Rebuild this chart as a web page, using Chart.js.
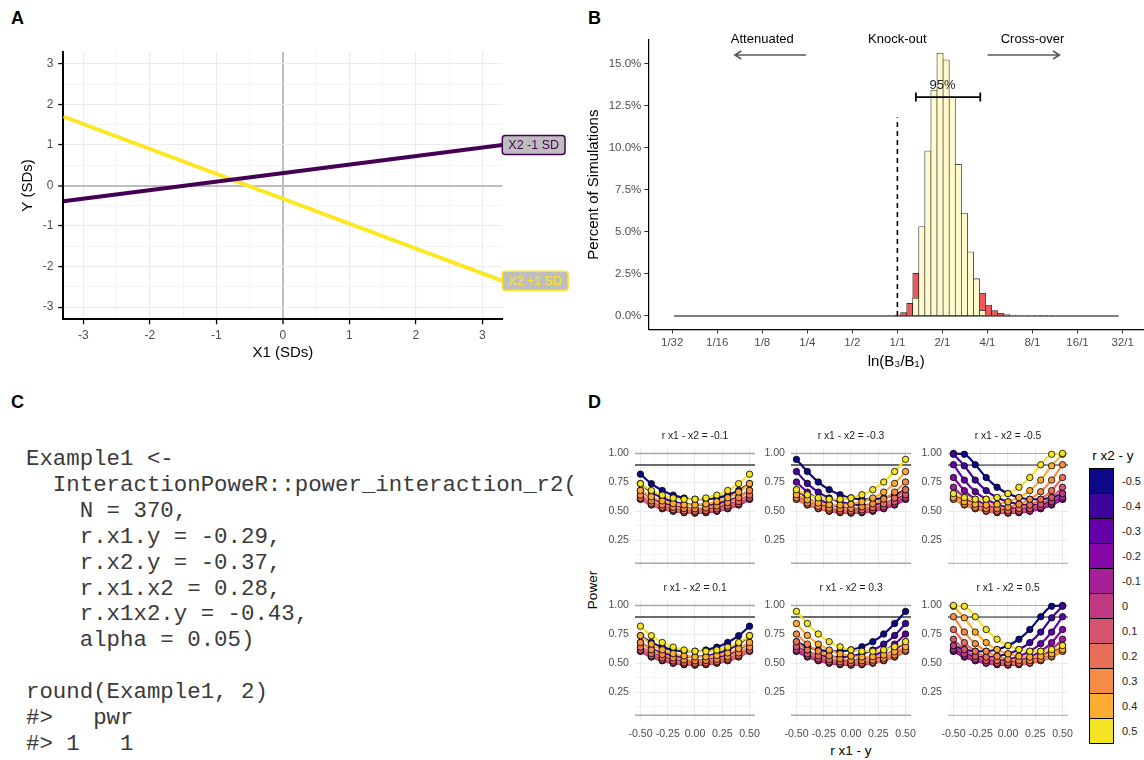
<!DOCTYPE html>
<html>
<head>
<meta charset="utf-8">
<title>Interaction power figure</title>
<script src="https://cdn.jsdelivr.net/npm/chart.js@4.4.1/dist/chart.umd.min.js"></script>
<style>
  html, body { margin:0; padding:0; background:#ffffff; }
  body { position:relative; width:1144px; height:760px; overflow:hidden; font-family:"Liberation Sans", Arial, sans-serif; }
  canvas { position:absolute; }
  .tag { position:absolute; font-weight:bold; font-size:18px; line-height:18px; color:#000; }
  #codeBlock { position:absolute; left:26px; top:447px; margin:0; width:554px; overflow:hidden; white-space:pre;
    font-family:"Liberation Mono","Courier New",monospace; font-size:22.4px; line-height:25.9px; color:#3a3a3a; }
  .ctext { position:absolute; white-space:nowrap; transform:translate(-50%,-50%); color:#000; }
  #legendD { position:absolute; left:0; top:0; }
  .lgBox { position:absolute; box-sizing:border-box; border:1px solid #000; }
  .lgLab { position:absolute; font-size:11px; color:#1a1a1a; transform:translateY(-50%); white-space:nowrap; }
</style>
</head>
<body>
<div class="tag" style="left:11px;top:9px">A</div>
<div class="tag" style="left:588px;top:9px">B</div>
<div class="tag" style="left:11px;top:393px">C</div>
<div class="tag" style="left:588px;top:393px">D</div>
<pre id="codeBlock"></pre>
<div class="ctext" style="left:592px;top:590px;font-size:13.5px;transform:translate(-50%,-50%) rotate(-90deg);">Power</div>
<div class="ctext" style="left:851px;top:750px;font-size:13.5px;">r x1 - y</div>
<div id="legendD"></div>
<script>
// ================= DATA =================
// ---- Panel A: simple slopes ----
const aX = [-3.3, 3.3];
const aLowY = [-0.39, 1.00];   // X2 -1 SD
const aHighY = [1.70, -2.35];  // X2 +1 SD
const aLabels = ['X2 -1 SD', 'X2 +1 SD'];

// ---- Panel B: histogram of log2(B3/B1) ----
const bBinCenters = [-0.131, 0.003, 0.138, 0.273, 0.408, 0.543, 0.677, 0.812, 0.947, 1.082, 1.217, 1.352, 1.487, 1.622, 1.756, 1.891, 2.026, 2.161, 2.296, 2.431, 2.566, 2.700, 2.835, 2.970, 3.105, 3.240, 3.374];
const bInside  = [0, 0, 0, 0, 1.05, 5.3, 9.8, 13.4, 15.6, 15.2, 13.0, 9.0, 6.1, 3.8, 2.2, 0.32, 0, 0, 0, 0, 0, 0, 0, 0, 0, 0, 0];
const bOutside = [0.02, 0.06, 0.2, 0.75, 1.48, 0, 0, 0, 0, 0, 0, 0, 0, 0, 0, 1.03, 0.65, 0.32, 0.16, 0.08, 0.05, 0.03, 0.02, 0.04, 0.02, 0.02, 0.01];
const bTickValues = [-5, -4, -3, -2, -1, 0, 1, 2, 3, 4, 5];
const bTickLabels = ['1/32', '1/16', '1/8', '1/4', '1/2', '1/1', '2/1', '4/1', '8/1', '16/1', '32/1'];
const bBaselineX = [-4.96, 4.91];
const bKnockoutX = 0;
const bKnockoutTop = 11.8;
const bCI = [0.41, 1.84];
const bCIy = 13.0;
const bCILabel = '95%';
const bCILabelPos = [1.0, 13.7];
const bAnnotLabels = ['Attenuated', 'Knock-out', 'Cross-over'];
const bAnnotX = [-3.0, 0, 3.0];
const bAnnotY = 16.45;
const bArrowFrom = [-2.03, 2.0];
const bArrowTo = [-3.61, 3.6];
const bArrowY = 15.5;

// ---- Panel C: code ----
const codeLines = [
  'Example1 <-',
  '  InteractionPoweR::power_interaction_r2(',
  '    N = 370,',
  '    r.x1.y = -0.29,',
  '    r.x2.y = -0.37,',
  '    r.x1.x2 = 0.28,',
  '    r.x1x2.y = -0.43,',
  '    alpha = 0.05)',
  '',
  'round(Example1, 2)',
  '#>   pwr',
  '#> 1   1'
];

// ---- Panel D: power curves ----
const dRx1y = [-0.5, -0.4, -0.3, -0.2, -0.1, 0, 0.1, 0.2, 0.3, 0.4, 0.5];
const dRx2yLabels = ['-0.5', '-0.4', '-0.3', '-0.2', '-0.1', '0', '0.1', '0.2', '0.3', '0.4', '0.5'];
const dColors = ['#0D0887', '#3E049C', '#6300A7', '#8707A6', '#A62098', '#C03A83', '#D5546E', '#E76F5A', '#F58C46', '#FDAD32', '#F4E423'];
const dPanelTitles = ['r x1 - x2 = -0.1', 'r x1 - x2 = -0.3', 'r x1 - x2 = -0.5', 'r x1 - x2 = 0.1', 'r x1 - x2 = 0.3', 'r x1 - x2 = 0.5'];
const dRefLines = [0.05, 0.9, 1.0];
// rows: r x2 - y = -0.5 ... 0.5 ; columns: r x1 - y = -0.5 ... 0.5
const dPowerNeg01 = [
  [0.821,0.739,0.680,0.640,0.615,0.604,0.604,0.615,0.640,0.680,0.739],
  [0.739,0.667,0.617,0.584,0.564,0.555,0.556,0.567,0.590,0.626,0.680],
  [0.680,0.617,0.575,0.546,0.529,0.522,0.524,0.535,0.556,0.590,0.640],
  [0.640,0.584,0.546,0.521,0.506,0.500,0.503,0.514,0.535,0.567,0.615],
  [0.615,0.564,0.529,0.506,0.493,0.488,0.491,0.503,0.524,0.556,0.604],
  [0.604,0.555,0.522,0.500,0.488,0.484,0.488,0.500,0.522,0.555,0.604],
  [0.604,0.556,0.524,0.503,0.491,0.488,0.493,0.506,0.529,0.564,0.615],
  [0.615,0.567,0.535,0.514,0.503,0.500,0.506,0.521,0.546,0.584,0.640],
  [0.640,0.590,0.556,0.535,0.524,0.522,0.529,0.546,0.575,0.617,0.680],
  [0.680,0.626,0.590,0.567,0.556,0.555,0.564,0.584,0.617,0.667,0.739],
  [0.739,0.680,0.640,0.615,0.604,0.604,0.615,0.640,0.680,0.739,0.821]
];
const dPowerNeg03 = [
  [0.949,0.844,0.753,0.687,0.643,0.616,0.604,0.604,0.616,0.643,0.687],
  [0.844,0.741,0.666,0.615,0.582,0.562,0.554,0.558,0.572,0.600,0.643],
  [0.753,0.666,0.606,0.565,0.539,0.525,0.522,0.527,0.543,0.572,0.616],
  [0.687,0.615,0.565,0.532,0.512,0.502,0.501,0.509,0.527,0.558,0.604],
  [0.643,0.582,0.539,0.512,0.495,0.488,0.490,0.501,0.522,0.554,0.604],
  [0.616,0.562,0.525,0.502,0.488,0.484,0.488,0.502,0.525,0.562,0.616],
  [0.604,0.554,0.522,0.501,0.490,0.488,0.495,0.512,0.539,0.582,0.643],
  [0.604,0.558,0.527,0.509,0.501,0.502,0.512,0.532,0.565,0.615,0.687],
  [0.616,0.572,0.543,0.527,0.522,0.525,0.539,0.565,0.606,0.666,0.753],
  [0.643,0.600,0.572,0.558,0.554,0.562,0.582,0.615,0.666,0.741,0.844],
  [0.687,0.643,0.616,0.604,0.604,0.616,0.643,0.687,0.753,0.844,0.949]
];
const dPowerNeg05 = [
  [1.000,0.993,0.903,0.792,0.708,0.653,0.619,0.604,0.604,0.619,0.653],
  [0.993,0.893,0.770,0.679,0.619,0.582,0.561,0.554,0.561,0.582,0.619],
  [0.903,0.770,0.670,0.604,0.561,0.535,0.523,0.523,0.535,0.561,0.604],
  [0.792,0.679,0.604,0.554,0.523,0.505,0.500,0.505,0.523,0.554,0.604],
  [0.708,0.619,0.561,0.523,0.500,0.489,0.489,0.500,0.523,0.561,0.619],
  [0.653,0.582,0.535,0.505,0.489,0.484,0.489,0.505,0.535,0.582,0.653],
  [0.619,0.561,0.523,0.500,0.489,0.489,0.500,0.523,0.561,0.619,0.708],
  [0.604,0.554,0.523,0.505,0.500,0.505,0.523,0.554,0.604,0.679,0.792],
  [0.604,0.561,0.535,0.523,0.523,0.535,0.561,0.604,0.670,0.770,0.903],
  [0.619,0.582,0.561,0.554,0.561,0.582,0.619,0.679,0.770,0.893,0.993],
  [0.653,0.619,0.604,0.604,0.619,0.653,0.708,0.792,0.903,0.993,1.000]
];
const dPowerPos01 = [
  [0.739,0.680,0.640,0.615,0.604,0.604,0.615,0.640,0.680,0.739,0.821],
  [0.680,0.626,0.590,0.567,0.556,0.555,0.564,0.584,0.617,0.667,0.739],
  [0.640,0.590,0.556,0.535,0.524,0.522,0.529,0.546,0.575,0.617,0.680],
  [0.615,0.567,0.535,0.514,0.503,0.500,0.506,0.521,0.546,0.584,0.640],
  [0.604,0.556,0.524,0.503,0.491,0.488,0.493,0.506,0.529,0.564,0.615],
  [0.604,0.555,0.522,0.500,0.488,0.484,0.488,0.500,0.522,0.555,0.604],
  [0.615,0.564,0.529,0.506,0.493,0.488,0.491,0.503,0.524,0.556,0.604],
  [0.640,0.584,0.546,0.521,0.506,0.500,0.503,0.514,0.535,0.567,0.615],
  [0.680,0.617,0.575,0.546,0.529,0.522,0.524,0.535,0.556,0.590,0.640],
  [0.739,0.667,0.617,0.584,0.564,0.555,0.556,0.567,0.590,0.626,0.680],
  [0.821,0.739,0.680,0.640,0.615,0.604,0.604,0.615,0.640,0.680,0.739]
];
const dPowerPos03 = [
  [0.687,0.643,0.616,0.604,0.604,0.616,0.643,0.687,0.753,0.844,0.949],
  [0.643,0.600,0.572,0.558,0.554,0.562,0.582,0.615,0.666,0.741,0.844],
  [0.616,0.572,0.543,0.527,0.522,0.525,0.539,0.565,0.606,0.666,0.753],
  [0.604,0.558,0.527,0.509,0.501,0.502,0.512,0.532,0.565,0.615,0.687],
  [0.604,0.554,0.522,0.501,0.490,0.488,0.495,0.512,0.539,0.582,0.643],
  [0.616,0.562,0.525,0.502,0.488,0.484,0.488,0.502,0.525,0.562,0.616],
  [0.643,0.582,0.539,0.512,0.495,0.488,0.490,0.501,0.522,0.554,0.604],
  [0.687,0.615,0.565,0.532,0.512,0.502,0.501,0.509,0.527,0.558,0.604],
  [0.753,0.666,0.606,0.565,0.539,0.525,0.522,0.527,0.543,0.572,0.616],
  [0.844,0.741,0.666,0.615,0.582,0.562,0.554,0.558,0.572,0.600,0.643],
  [0.949,0.844,0.753,0.687,0.643,0.616,0.604,0.604,0.616,0.643,0.687]
];
const dPowerPos05 = [
  [0.653,0.619,0.604,0.604,0.619,0.653,0.708,0.792,0.903,0.993,1.000],
  [0.619,0.582,0.561,0.554,0.561,0.582,0.619,0.679,0.770,0.893,0.993],
  [0.604,0.561,0.535,0.523,0.523,0.535,0.561,0.604,0.670,0.770,0.903],
  [0.604,0.554,0.523,0.505,0.500,0.505,0.523,0.554,0.604,0.679,0.792],
  [0.619,0.561,0.523,0.500,0.489,0.489,0.500,0.523,0.561,0.619,0.708],
  [0.653,0.582,0.535,0.505,0.489,0.484,0.489,0.505,0.535,0.582,0.653],
  [0.708,0.619,0.561,0.523,0.500,0.489,0.489,0.500,0.523,0.561,0.619],
  [0.792,0.679,0.604,0.554,0.523,0.505,0.500,0.505,0.523,0.554,0.604],
  [0.903,0.770,0.670,0.604,0.561,0.535,0.523,0.523,0.535,0.561,0.604],
  [0.993,0.893,0.770,0.679,0.619,0.582,0.561,0.554,0.561,0.582,0.619],
  [1.000,0.993,0.903,0.792,0.708,0.653,0.619,0.604,0.604,0.619,0.653]
];
const dPanels = [dPowerNeg01, dPowerNeg03, dPowerNeg05, dPowerPos01, dPowerPos03, dPowerPos05];

// ================= RENDERING =================
const FONT = '"Liberation Sans", Arial, sans-serif';
Chart.defaults.font.family = FONT;
Chart.defaults.color = '#4D4D4D';

function place(id, left, top, w, h) {
  const c = document.createElement('canvas');
  c.id = id; c.width = w; c.height = h;
  c.style.left = left + 'px'; c.style.top = top + 'px';
  c.style.width = w + 'px'; c.style.height = h + 'px';
  document.body.appendChild(c);
  return c;
}
const isInt = v => Math.abs(v - Math.round(v)) < 1e-9;
const isQuarter = v => Math.abs(v * 4 - Math.round(v * 4)) < 1e-9;
const baseOpts = { responsive:false, animation:false, devicePixelRatio:1, events:[] };

// ---------- Panel C ----------
document.getElementById('codeBlock').textContent = codeLines.join('\n');

// ---------- Panel A ----------
const aColors = ['#440154', '#FDE725'];
const aLabelPlugin = {
  id: 'aLabels',
  afterDatasetsDraw(chart) {
    const { ctx, scales: { x, y } } = chart;
    ctx.save();
    ctx.font = '12.5px ' + FONT;
    chart.data.datasets.forEach(ds => {
      const last = ds.data[ds.data.length - 1];
      const px = x.getPixelForValue(last.x), py = y.getPixelForValue(last.y);
      const tw = ctx.measureText(ds.label).width;
      const w = tw + 12, h = 19;
      ctx.beginPath();
      ctx.roundRect(px, py - h / 2, w, h, 3);
      ctx.fillStyle = '#BEBEBE'; ctx.fill();
      ctx.lineWidth = 1.5; ctx.strokeStyle = ds.borderColor; ctx.stroke();
      ctx.fillStyle = ds.borderColor; ctx.textBaseline = 'middle'; ctx.textAlign = 'left';
      ctx.fillText(ds.label, px + 6, py + 0.5);
    });
    ctx.restore();
  }
};
function gridA(c) { const v = c.tick ? c.tick.value : 1; return Math.abs(v) < 1e-9 ? '#BEBEBE' : '#EBEBEB'; }
function gridAW(c) { const v = c.tick ? c.tick.value : 1; return Math.abs(v) < 1e-9 ? 2 : (isInt(v) ? 1.1 : 0.55); }
function tickColA(c) { return (c.tick && isInt(c.tick.value)) ? '#000' : 'rgba(0,0,0,0)'; }

new Chart(place('chartA', 0, 0, 580, 370), {
  type: 'line',
  data: { datasets: [
    { label: aLabels[0], data: aX.map((x, i) => ({ x, y: aLowY[i] })), borderColor: aColors[0], borderWidth: 4, pointRadius: 0 },
    { label: aLabels[1], data: aX.map((x, i) => ({ x, y: aHighY[i] })), borderColor: aColors[1], borderWidth: 4, pointRadius: 0 }
  ] },
  options: Object.assign({}, baseOpts, {
    layout: { padding: { left: 0, top: 51.7, right: 77.7, bottom: 0 } },
    plugins: { legend: { display: false }, tooltip: { enabled: false } },
    scales: {
      x: {
        type: 'linear', min: -3.3, max: 3.3,
        afterFit: s => { s.height = 50.7; },
        ticks: { stepSize: 0.5, includeBounds: false, autoSkip: false, maxRotation: 0, minRotation: 0, maxTicksLimit: 100,
          padding: 4, color: '#4D4D4D', font: { size: 12 }, callback: v => isInt(v) ? String(Math.round(v)) : '' },
        grid: { color: gridA, lineWidth: gridAW, tickColor: tickColA, tickLength: 5, tickWidth: 1.3 },
        border: { display: true, color: '#000', width: 2 },
        title: { display: true, text: 'X1 (SDs)', color: '#000', font: { size: 15 }, padding: { top: 0, bottom: 8 } }
      },
      y: {
        type: 'linear', min: -3.3, max: 3.3,
        afterFit: s => { s.width = 63.3; },
        ticks: { stepSize: 0.5, includeBounds: false, autoSkip: false, maxTicksLimit: 100,
          padding: 5, color: '#4D4D4D', font: { size: 12 }, callback: v => isInt(v) ? String(Math.round(v)) : '' },
        grid: { color: gridA, lineWidth: gridAW, tickColor: tickColA, tickLength: 5, tickWidth: 1.3 },
        border: { display: true, color: '#000', width: 2 },
        title: { display: true, text: 'Y (SDs)', color: '#000', font: { size: 15 }, padding: { top: 19, bottom: 0 } }
      }
    }
  }),
  plugins: [aLabelPlugin]
});

// ---------- Panel B ----------
const bAnnotPlugin = {
  id: 'bAnnot',
  afterDatasetsDraw(chart) {
    const { ctx, scales: { x, y } } = chart;
    ctx.save();
    const yy = y.getPixelForValue(bCIy), xl = x.getPixelForValue(bCI[0]), xr = x.getPixelForValue(bCI[1]);
    ctx.strokeStyle = '#000'; ctx.lineWidth = 1.8;
    ctx.beginPath();
    ctx.moveTo(xl, yy); ctx.lineTo(xr, yy);
    ctx.moveTo(xl, yy - 4.5); ctx.lineTo(xl, yy + 4.5);
    ctx.moveTo(xr, yy - 4.5); ctx.lineTo(xr, yy + 4.5);
    ctx.stroke();
    ctx.font = '13px ' + FONT; ctx.textAlign = 'center'; ctx.textBaseline = 'middle'; ctx.fillStyle = '#222';
    ctx.fillText(bCILabel, x.getPixelForValue(bCILabelPos[0]), y.getPixelForValue(bCILabelPos[1]));
    ctx.fillStyle = '#000';
    bAnnotLabels.forEach((t, i) => ctx.fillText(t, x.getPixelForValue(bAnnotX[i]), y.getPixelForValue(bAnnotY)));
    ctx.strokeStyle = '#5A5A5A'; ctx.lineWidth = 1.5;
    const ay = y.getPixelForValue(bArrowY);
    bArrowFrom.forEach((f, i) => {
      const x0 = x.getPixelForValue(f), x1 = x.getPixelForValue(bArrowTo[i]);
      const dir = Math.sign(x1 - x0);
      ctx.beginPath();
      ctx.moveTo(x0, ay); ctx.lineTo(x1, ay);
      ctx.moveTo(x1 - dir * 6.5, ay - 4); ctx.lineTo(x1, ay); ctx.lineTo(x1 - dir * 6.5, ay + 4);
      ctx.stroke();
    });
    ctx.restore();
  }
};
const bTotals = bInside.map((v, i) => v + bOutside[i]);
new Chart(place('chartB', 580, 0, 564, 380), {
  type: 'bar',
  data: { datasets: [
    { type: 'line', data: [{ x: bKnockoutX, y: 0 }, { x: bKnockoutX, y: bKnockoutTop }], borderColor: '#000', borderWidth: 1.6, borderDash: [5, 4], pointRadius: 0, order: 1 },
    { type: 'bar', data: bBinCenters.map((x, i) => ({ x, y: bInside[i] })), backgroundColor: '#FFFACD', borderColor: '#1A1A1A', borderWidth: 0.6, borderSkipped: false, barPercentage: 1, categoryPercentage: 1, grouped: false, order: 2 },
    { type: 'bar', data: bBinCenters.map((x, i) => ({ x, y: bTotals[i] })), backgroundColor: '#EA5A5A', borderColor: '#1A1A1A', borderWidth: 0.6, borderSkipped: false, barPercentage: 1, categoryPercentage: 1, grouped: false, order: 3 },
    { type: 'line', data: bBaselineX.map(x => ({ x, y: 0 })), borderColor: '#000', borderWidth: 1, pointRadius: 0, order: 5 }
  ] },
  options: Object.assign({}, baseOpts, {
    layout: { padding: { left: 0, top: 40, right: 0, bottom: 0 } },
    plugins: { legend: { display: false }, tooltip: { enabled: false } },
    scales: {
      x: {
        type: 'linear', min: -5.53, max: 5.475, offset: false,
        afterFit: s => { s.height = 50.7; },
        ticks: { stepSize: 1, includeBounds: false, autoSkip: false, maxRotation: 0, minRotation: 0, padding: 3,
          color: '#4D4D4D', font: { size: 11.5 },
          callback: v => { const k = bTickValues.indexOf(Math.round(v)); return (k >= 0 && isInt(v)) ? bTickLabels[k] : ''; } },
        grid: { offset: false, drawOnChartArea: false, drawTicks: true, tickLength: 4, tickColor: '#333', tickWidth: 1 },
        border: { display: true, color: '#000', width: 1.2 },
        title: { display: true, text: 'ln(B\u2083/B\u2081)', color: '#000', font: { size: 15 }, padding: { top: 0, bottom: 9.5 } }
      },
      y: {
        type: 'linear', min: -0.79, max: 16.39,
        afterFit: s => { s.width = 68.3; },
        ticks: { stepSize: 2.5, includeBounds: false, padding: 3, color: '#4D4D4D', font: { size: 11.5 },
          callback: v => v.toFixed(1) + '%' },
        grid: { drawOnChartArea: false, drawTicks: true, tickLength: 4, tickColor: '#333', tickWidth: 1 },
        border: { display: true, color: '#000', width: 1.2 },
        title: { display: true, text: 'Percent of Simulations', color: '#000', font: { size: 15 }, padding: { top: 5, bottom: 0 } }
      }
    }
  }),
  plugins: [bAnnotPlugin]
});

// ---------- Panel D ----------
const dTitlePlugin = {
  id: 'dTitle',
  afterDraw(chart, args, opts) {
    const { ctx, chartArea } = chart;
    ctx.save();
    ctx.font = '10.3px ' + FONT; ctx.fillStyle = '#1A1A1A';
    ctx.textAlign = 'center'; ctx.textBaseline = 'middle';
    ctx.fillText(opts.text, (chartArea.left + chartArea.right) / 2, chartArea.top - 11.5);
    ctx.restore();
  }
};
const dColLeft = [634.5, 791.2, 947.7], dRowTop = [447.8, 600.2], dPlotH = 120.8;
function dGridColor(c) { return '#EBEBEB'; }
function dGridW(c) { const v = c.tick ? c.tick.value : 0; return isQuarter(v) ? 1.1 : 0.55; }
dPanels.forEach((panel, k) => {
  const col = k % 3, row = Math.floor(k / 3);
  const pl = dColLeft[col], pt = dRowTop[row];
  const cw = 180, ch = 171;
  const bottomSpace = ch - 22 - dPlotH;
  const thick = col !== 2;
  const datasets = [];
  dRefLines.forEach(v => datasets.push({
    data: [{ x: -0.55, y: v }, { x: 0.55, y: v }],
    borderColor: Math.abs(v - 0.9) < 1e-9 ? (thick ? '#3A3A3A' : '#111') : '#A8A8A8',
    borderWidth: thick ? 1.6 : 1, pointRadius: 0, order: 1000
  }));
  panel.forEach((series, j) => datasets.push({
    data: dRx1y.map((x, i) => ({ x, y: series[i] })), borderColor: dColors[j], borderWidth: 2.2,
    pointRadius: 0, cubicInterpolationMode: 'monotone', order: 500 - j
  }));
  panel.forEach((series, j) => datasets.push({
    data: dRx1y.map((x, i) => ({ x, y: series[i] })), showLine: false, pointRadius: 3.2,
    pointBackgroundColor: dColors[j], pointBorderColor: '#000', pointBorderWidth: 0.8, order: 100 - j
  }));
  new Chart(place('chartD' + k, pl - 40, pt - 22, cw, ch), {
    type: 'line',
    data: { datasets },
    options: Object.assign({}, baseOpts, {
      layout: { padding: { left: 0, top: 22, right: 20, bottom: row === 1 ? 0 : bottomSpace } },
      plugins: { legend: { display: false }, tooltip: { enabled: false }, dTitle: { text: dPanelTitles[k] } },
      scales: {
        x: {
          type: 'linear', min: -0.55, max: 0.55,
          afterFit: s => { s.height = row === 1 ? bottomSpace : 0; },
          ticks: { display: row === 1, stepSize: 0.125, includeBounds: false, autoSkip: false, maxRotation: 0, minRotation: 0,
            padding: 7, color: '#4D4D4D', font: { size: 10.6 },
            callback: v => isQuarter(v) ? (Math.abs(v) < 1e-9 ? 0 : v).toFixed(2) : '' },
          grid: { color: dGridColor, lineWidth: dGridW, drawTicks: false },
          border: { display: false }
        },
        y: {
          type: 'linear', min: 0.0025, max: 1.0475,
          afterFit: s => { s.width = 40; },
          ticks: { stepSize: 0.125, includeBounds: false, padding: 6, color: '#4D4D4D', font: { size: 10.6 },
            callback: v => isQuarter(v) ? v.toFixed(2) : '' },
          grid: { color: dGridColor, lineWidth: dGridW, drawTicks: false },
          border: { display: false }
        }
      }
    }),
    plugins: [dTitlePlugin]
  });
});

// ---------- Panel D legend ----------
(function buildLegend() {
  const host = document.getElementById('legendD');
  const left = 1089, top = 468, bw = 25, bh = 25;
  const title = document.createElement('div');
  title.className = 'ctext';
  title.style.cssText = 'left:' + (left + 24) + 'px;top:455px;font-size:13.5px;color:#000;';
  title.textContent = 'r x2 - y';
  host.appendChild(title);
  dRx2yLabels.forEach((lab, i) => {
    const b = document.createElement('div');
    b.className = 'lgBox';
    b.style.cssText = 'left:' + left + 'px;top:' + (top + i * bh) + 'px;width:' + bw + 'px;height:' + (bh + 1) + 'px;background:' + dColors[i] + ';';
    host.appendChild(b);
    const t = document.createElement('div');
    t.className = 'lgLab';
    t.style.cssText = 'left:' + (left + bw + 8) + 'px;top:' + (top + i * bh + bh / 2 + 0.5) + 'px;';
    t.textContent = lab;
    host.appendChild(t);
  });
})();
</script>
</body>
</html>
